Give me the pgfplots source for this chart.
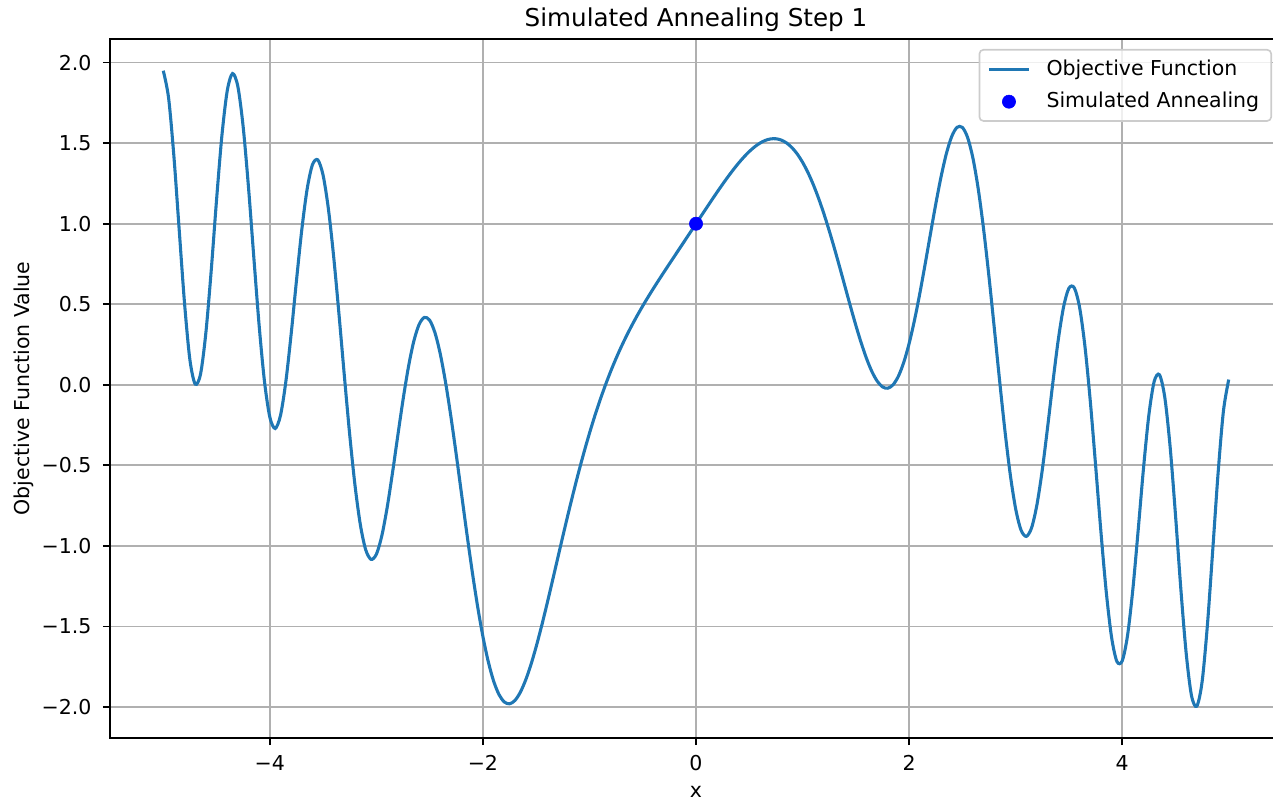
\documentclass[border=0pt]{standalone}
\usepackage{fontspec}
\setmainfont{DejaVu Sans}
\usepackage{pgfplots}
\pgfplotsset{compat=1.18}
\definecolor{mplblue}{HTML}{1F77B4}
\definecolor{gridgray}{HTML}{B0B0B0}
\definecolor{legedge}{HTML}{CCCCCC}
\pgfplotsset{
  lineleg/.style={legend image code/.code={\draw[##1] (0pt,0pt) -- (20pt,0pt);}},
  markleg/.style={legend image code/.code={\path[draw=none, fill=none] (0pt,-1pt) rectangle (20pt,1pt); \draw[##1, fill opacity=1, draw opacity=1] plot coordinates {(10pt,0pt)};}},
}
\begin{document}
\begin{tikzpicture}
\begin{axis}[
  scale only axis, width=586pt, height=349.5pt,
  xmin=-5.5, xmax=5.5, ymin=-2.193, ymax=2.147,
  xtick={-4,-2,0,2,4}, xticklabels={−4,−2,0,2,4},
  ytick={-2,-1.5,-1,-0.5,0,0.5,1,1.5,2},
  yticklabels={−2.0,−1.5,−1.0,−0.5,0.0,0.5,1.0,1.5,2.0},
  tick align=outside, major tick length=3.6pt,
  xtick pos=bottom, ytick pos=left,
  tick style={black, line width=0.82pt},
  grid=major, major grid style={gridgray, line width=0.82pt},
  axis line style={black, line width=0.82pt},
  ticklabel style={font=\fontsize{10.25}{12}\selectfont, inner sep=0pt},
  xticklabel style={anchor=north, yshift=-5pt},
  yticklabel style={anchor=east, xshift=-5.5pt},
  title={Simulated Annealing Step 1},
  title style={at={(axis description cs:0.5,1)}, anchor=base, yshift=0.3pt, inner sep=0pt, font=\fontsize{12.3}{14}\selectfont},
  xlabel={x},
  xlabel style={at={(axis description cs:0.5,0)}, anchor=base, yshift=-30pt, inner sep=0pt, font=\fontsize{10.25}{12}\selectfont},
  ylabel={Objective Function Value},
  ylabel style={at={(axis description cs:-0.0685,0.5)}, anchor=base, inner sep=0pt, font=\fontsize{10.25}{12}\selectfont},
  legend cell align=left,
  legend style={at={(axis description cs:1,1)}, xshift=-5pt, yshift=-5pt, anchor=north east,
    draw=legedge, line width=0.82pt, rounded corners=2pt, fill=white, fill opacity=0.8, text opacity=1, draw opacity=1,
    inner xsep=4pt, inner ysep=3pt, row sep=3pt, column sep=6pt,
    font=\fontsize{10.25}{12}\selectfont, nodes={inner sep=2pt}},
]
\addplot[mplblue, line width=1.54pt, smooth, tension=0.5, lineleg]
coordinates {
(-5.00,1.95013)(-4.95,1.78047)(-4.90,1.41657)(-4.85,0.95708)(-4.80,0.50281)
(-4.75,0.15491)(-4.70,0.00424)(-4.65,0.06742)(-4.60,0.32411)(-4.55,0.70938)
(-4.50,1.14804)(-4.45,1.54506)(-4.40,1.82413)(-4.35,1.93239)(-4.30,1.85222)
(-4.25,1.60092)(-4.20,1.22501)(-4.15,0.78976)(-4.10,0.36650)(-4.05,0.02017)
(-4.00,-0.20086)(-3.95,-0.27126)(-3.90,-0.19079)(-3.85,0.01769)(-3.80,0.31363)
(-3.75,0.64616)(-3.70,0.96225)(-3.65,1.21428)(-3.60,1.36604)(-3.55,1.39650)
(-3.50,1.30115)(-3.45,1.09116)(-3.40,0.79047)(-3.35,0.43189)(-3.30,0.05237)
(-3.25,-0.31147)(-3.20,-0.62733)(-3.15,-0.87027)(-3.10,-1.02448)(-3.05,-1.08400)
(-3.00,-1.05225)(-2.95,-0.94073)(-2.90,-0.76706)(-2.85,-0.55278)(-2.80,-0.32101)
(-2.75,-0.09429)(-2.70,0.10718)(-2.65,0.26690)(-2.60,0.37296)(-2.55,0.41836)
(-2.50,0.40098)(-2.45,0.32310)(-2.40,0.19077)(-2.35,0.01289)(-2.30,-0.19968)
(-2.25,-0.43507)(-2.20,-0.68123)(-2.15,-0.92667)(-2.10,-1.16101)(-2.05,-1.37544)
(-2.00,-1.56294)(-1.95,-1.71840)(-1.90,-1.83859)(-1.85,-1.92208)(-1.80,-1.96901)
(-1.75,-1.98086)(-1.70,-1.96018)(-1.65,-1.91032)(-1.60,-1.83516)(-1.55,-1.73886)
(-1.50,-1.62567)(-1.45,-1.49971)(-1.40,-1.36490)(-1.35,-1.22478)(-1.30,-1.08248)
(-1.25,-0.94069)(-1.20,-0.80162)(-1.15,-0.66701)(-1.10,-0.53819)(-1.05,-0.41606)
(-1.00,-0.30117)(-0.95,-0.19364)(-0.90,-0.09383)(-0.85,-0.00117)(-0.80,0.08474)
(-0.75,0.16429)(-0.70,0.23812)(-0.65,0.30688)(-0.60,0.37126)(-0.55,0.43191)
(-0.50,0.48949)(-0.45,0.54460)(-0.40,0.59781)(-0.35,0.64961)(-0.30,0.70043)
(-0.25,0.75064)(-0.20,0.80053)(-0.15,0.85031)(-0.10,0.90012)(-0.05,0.95002)
(0.00,1.00000)
(0.05,1.04998)(0.10,1.09978)(0.15,1.14919)(0.20,1.19787)(0.25,1.24545)
(0.30,1.29147)(0.35,1.33541)(0.40,1.37665)(0.45,1.41453)(0.50,1.44834)
(0.55,1.47728)(0.60,1.50054)(0.65,1.51725)(0.70,1.52655)(0.75,1.52756)
(0.80,1.51945)(0.85,1.50139)(0.90,1.47283)(0.95,1.43320)(1.00,1.38177)
(1.05,1.31879)(1.10,1.24423)(1.15,1.15852)(1.20,1.06246)(1.25,0.95728)
(1.30,0.84464)(1.35,0.72667)(1.40,0.60600)(1.45,0.48571)(1.50,0.36932)
(1.55,0.26070)(1.60,0.16399)(1.65,0.08341)(1.70,0.02315)(1.75,-0.01289)
(1.80,-0.02131)(1.85,0.00047)(1.90,0.05401)(1.95,0.13952)(2.00,0.25565)
(2.05,0.39928)(2.10,0.56541)(2.15,0.74713)(2.20,0.93576)(2.25,1.12108)
(2.30,1.29173)(2.35,1.43584)(2.40,1.54170)(2.45,1.59863)(2.50,1.59792)
(2.55,1.53373)(2.60,1.40396)(2.65,1.21096)(2.70,0.96194)(2.75,0.66903)
(2.80,0.34897)(2.85,0.02217)(2.90,-0.28856)(2.95,-0.55988)(3.00,-0.77001)
(3.05,-0.90107)(3.10,-0.94131)(3.15,-0.88708)(3.20,-0.74408)(3.25,-0.52786)
(3.30,-0.26312)(3.35,0.01808)(3.40,0.27939)(3.45,0.48407)(3.50,0.59959)
(3.55,0.60220)(3.60,0.48100)(3.65,0.24071)(3.70,-0.09742)(3.75,-0.49696)
(3.80,-0.91008)(3.85,-1.28356)(3.90,-1.56632)(3.95,-1.71763)(4.00,-1.71446)
(4.05,-1.55687)(4.10,-1.27006)(4.15,-0.90221)(4.20,-0.51814)(4.25,-0.18905)
(4.30,0.01989)(4.35,0.06229)(4.40,-0.07908)(4.45,-0.38649)(4.50,-0.80702)
(4.55,-1.26430)(4.60,-1.66328)(4.65,-1.92869)(4.70,-1.99563)(4.75,-1.84371)
(4.80,-1.48952)(4.85,-1.02396)(4.90,-0.54834)(4.95,-0.16352)(5.00,0.03228)
};
\addlegendentry{Objective Function}
\addplot[only marks, mark=*, mark size=3.3pt, color=blue, mark options={fill=blue, draw=blue, line width=0.3pt}, markleg]
coordinates {(0,1)};
\addlegendentry{Simulated Annealing}
\end{axis}
\pgfresetboundingbox
\path (-55pt,-32pt) rectangle (581.5pt,369pt);
\end{tikzpicture}
\end{document}
